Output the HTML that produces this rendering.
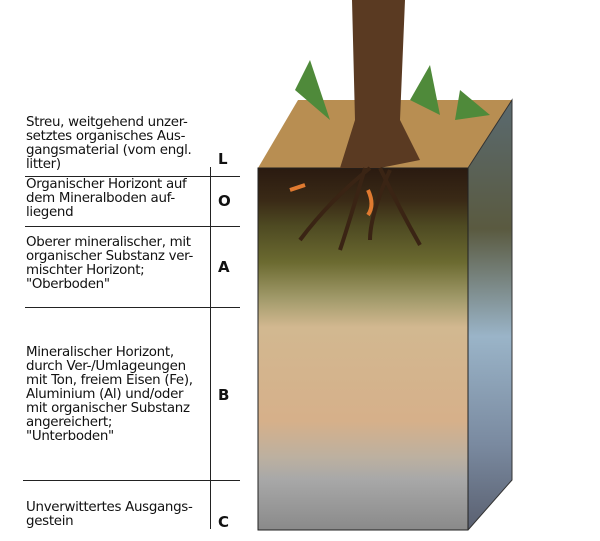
<!DOCTYPE html><html><head><style>
body{margin:0;width:600px;height:541px;background:#fff;position:relative;overflow:hidden;font-family:"DejaVu Sans","Liberation Sans",sans-serif;}
.t{position:absolute;left:26px;font-size:13.4px;line-height:14px;color:#111;letter-spacing:-0.3px}
.h{position:absolute;height:1px;background:#222}
.l{position:absolute;left:218px;font-weight:bold;font-size:15px;color:#111}
</style></head><body>
<div class="t" style="top:116px">Streu, weitgehend unzer-<br>setztes organisches Aus-<br>gangsmaterial (vom engl.<br>litter)</div>
<div class="t" style="top:178px">Organischer Horizont auf<br>dem Mineralboden auf-<br>liegend</div>
<div class="t" style="top:236px">Oberer mineralischer, mit<br>organischer Substanz ver-<br>mischter Horizont;<br>"Oberboden"</div>
<div class="t" style="top:346px">Mineralischer Horizont,<br>durch Ver-/Umlageungen<br>mit Ton, freiem Eisen (Fe),<br>Aluminium (Al) und/oder<br>mit organischer Substanz<br>angereichert;<br>"Unterboden"</div>
<div class="t" style="top:501px">Unverwittertes Ausgangs-<br>gestein</div>
<div class="h" style="left:25px;top:176px;width:215px"></div>
<div class="h" style="left:25px;top:226px;width:215px"></div>
<div class="h" style="left:25px;top:307px;width:215px"></div>
<div class="h" style="left:23px;top:480px;width:217px"></div>
<div style="position:absolute;left:210px;top:167px;width:1px;height:362px;background:#222"></div>
<div class="l" style="top:150px">L</div>
<div class="l" style="top:192px">O</div>
<div class="l" style="top:258px">A</div>
<div class="l" style="top:386px">B</div>
<div class="l" style="top:513px">C</div>
<svg width="600" height="541" style="position:absolute;left:0;top:0">
<defs>
<linearGradient id="f" x1="0" y1="0" x2="0" y2="1">
<stop offset="0" stop-color="#2a1a10"/>
<stop offset="0.09" stop-color="#3a2a16"/>
<stop offset="0.16" stop-color="#4e4a22"/>
<stop offset="0.26" stop-color="#6b6a30"/>
<stop offset="0.36" stop-color="#a19a6a"/>
<stop offset="0.44" stop-color="#d2b890"/>
<stop offset="0.7" stop-color="#d6b08a"/>
<stop offset="0.8" stop-color="#bcb0a0"/>
<stop offset="0.86" stop-color="#a8a8a8"/>
<stop offset="1" stop-color="#8a8a8a"/>
</linearGradient>
<linearGradient id="s" x1="0" y1="0" x2="0" y2="1">
<stop offset="0" stop-color="#5a6a70"/>
<stop offset="0.3" stop-color="#5a5a40"/>
<stop offset="0.55" stop-color="#9ab4c8"/>
<stop offset="0.8" stop-color="#7a8aa0"/>
<stop offset="1" stop-color="#5a6070"/>
</linearGradient>
</defs>
<polygon points="258,168 468,168 512,100 298,100" fill="#b88e52"/>
<polygon points="468,168 512,100 512,480 468,530" fill="url(#s)"/>
<rect x="258" y="168" width="210" height="362" fill="url(#f)"/>
<rect x="258" y="168" width="210" height="362" fill="none" stroke="#222"/>
<polyline points="468,168 512,100 512,480 468,530" fill="none" stroke="#333"/>
<path d="M352,0 L405,0 L400,120 L420,160 L380,168 L340,168 L355,120 Z" fill="#5a3a22"/>
<path d="M370,168 Q330,200 300,240 M380,168 Q400,210 420,245 M365,168 Q350,220 340,250 M390,170 Q370,215 370,240" stroke="#3a2414" stroke-width="4" fill="none"/>
<path d="M310,60 L330,120 L295,90 Z M430,65 L440,115 L410,100 Z M460,90 L490,115 L455,120 Z" fill="#4f8a3a"/>
<path d="M290,190 L305,185" stroke="#e07a30" stroke-width="4"/>
<path d="M368,190 Q375,205 368,215" stroke="#e07a30" stroke-width="4" fill="none"/>
</svg>
</body></html>
